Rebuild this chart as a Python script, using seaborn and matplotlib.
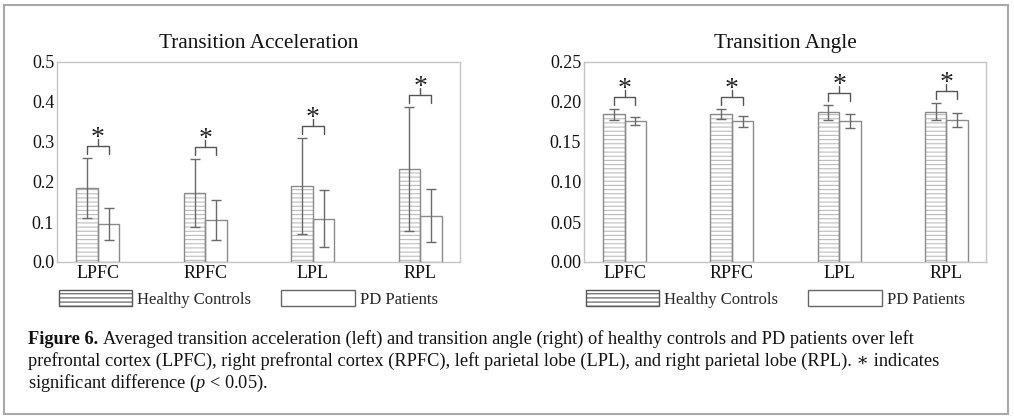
import numpy as np
import pandas as pd
import matplotlib
matplotlib.use("Agg")
import matplotlib.pyplot as plt
import seaborn as sns
from matplotlib.patches import Rectangle

# ---------------- data ----------------
regions = ["LPFC", "RPFC", "LPL", "RPL"]
groups = ["Healthy Controls", "PD Patients"]

acc_hc = [0.185, 0.172, 0.190, 0.232]
acc_hc_err = [0.074, 0.085, 0.120, 0.155]
acc_pd = [0.095, 0.105, 0.108, 0.116]
acc_pd_err = [0.040, 0.049, 0.071, 0.066]

ang_hc = [0.1846, 0.1850, 0.1870, 0.1880]
ang_hc_err = [0.0068, 0.0065, 0.0095, 0.0110]
ang_pd = [0.1760, 0.1760, 0.1762, 0.1775]
ang_pd_err = [0.0053, 0.0070, 0.0090, 0.0082]

acc_ticks = [0.0, 0.1, 0.2, 0.3, 0.4, 0.5]
ang_ticks = [0.00, 0.05, 0.10, 0.15, 0.20, 0.25]

titles = ["Transition Acceleration", "Transition Angle"]

caption_bold = "Figure 6."
caption_1 = ("Averaged transition acceleration (left) and transition angle (right) "
             "of healthy controls and PD patients over left")
caption_2 = ("prefrontal cortex (LPFC), right prefrontal cortex (RPFC), left parietal "
             "lobe (LPL), and right parietal lobe (RPL). \u2217 indicates")
caption_3 = "significant difference ($p$ < 0.05)."

# ---------------- style ----------------
sns.set_style("white")
SERIF = ["Liberation Serif", "DejaVu Serif"]
plt.rcParams["font.family"] = SERIF
plt.rcParams["mathtext.fontset"] = "custom"
plt.rcParams["mathtext.rm"] = "Liberation Serif"
plt.rcParams["mathtext.it"] = "Liberation Serif:italic"
plt.rcParams["hatch.linewidth"] = 0.8

W, H = 1014, 419
fig = plt.figure(figsize=(W / 100, H / 100), dpi=100)
fig.patch.set_facecolor("white")

SPINE = "#c4c4c4"
EDGE = "#8a8a8a"
HATCH = "#bcbcbc"
ERR = "#6a6a6a"
BRK = "#555555"

ax_pos = [(57, 403), (584, 402)]
ax_top, ax_bot = 62, 262


def draw_panel(ax, hc, hce, pdv, pde, ticks, fmt, title):
    df = pd.DataFrame({
        "region": regions * 2,
        "group": [groups[0]] * len(regions) + [groups[1]] * len(regions),
        "value": list(hc) + list(pdv),
    })
    sns.barplot(data=df, x="region", y="value", hue="group", order=regions,
                hue_order=groups, palette=["white", "white"], saturation=1,
                width=0.4, edgecolor=EDGE, linewidth=1.0, errorbar=None,
                legend=False, ax=ax)
    ymax = ticks[-1]
    ax.set_ylim(0, ymax)
    ax.set_xlim(-0.38, 3.37)
    px = ymax / (ax_bot - ax_top)  # data units per pixel

    hc_bars = ax.containers[0]
    pd_bars = ax.containers[1]
    for p in hc_bars:
        p.set_hatch("----")
        p.set_edgecolor(HATCH)
        p.set_linewidth(0.0)
        ax.add_patch(Rectangle((p.get_x(), p.get_y()), p.get_width(), p.get_height(),
                               fill=False, edgecolor=EDGE, linewidth=1.0, zorder=3))

    for bars, vals, errs in ((hc_bars, hc, hce), (pd_bars, pdv, pde)):
        xs = [p.get_x() + p.get_width() / 2 for p in bars]
        ax.errorbar(xs, vals, yerr=errs, fmt="none", ecolor=ERR, elinewidth=1.0,
                    capsize=3.5, capthick=1.0, zorder=4)

    for i in range(len(regions)):
        ph, pp = hc_bars[i], pd_bars[i]
        x1 = ph.get_x() + ph.get_width() / 2
        x2 = pp.get_x() + pp.get_width() / 2
        xm = (x1 + x2) / 2
        top = max(hc[i] + hce[i], pdv[i] + pde[i])
        y0 = top + 4 * px
        yb = y0 + 8 * px
        yt = yb + 7 * px
        ax.plot([x1, x1, x2, x2], [y0, yb, yb, y0], color=BRK, lw=1.0,
                clip_on=False, zorder=5)
        ax.plot([xm, xm], [yb, yt], color=BRK, lw=1.0, clip_on=False, zorder=5)
        ax.text(xm, yt - 6 * px, "*", ha="center", va="baseline", fontsize=20,
                color="#222222", clip_on=False, zorder=6)

    ax.set_yticks(ticks)
    ax.set_yticklabels([fmt.format(t) for t in ticks], fontsize=13)
    ax.set_xticks(range(len(regions)))
    ax.set_xticklabels(regions, fontsize=13)
    ax.tick_params(axis="both", length=0, pad=2, colors="#111111")
    ax.set_xlabel("")
    ax.set_ylabel("")
    for s in ax.spines.values():
        s.set_visible(True)
        s.set_color(SPINE)
        s.set_linewidth(1.0)
    ax.set_title(title, fontsize=15.3, pad=10, color="#111111")


panels = [
    (acc_hc, acc_hc_err, acc_pd, acc_pd_err, acc_ticks, "{:.1f}"),
    (ang_hc, ang_hc_err, ang_pd, ang_pd_err, ang_ticks, "{:.2f}"),
]
for (left, width), data, title in zip(ax_pos, panels, titles):
    ax = fig.add_axes([left / W, 1 - ax_bot / H, width / W, (ax_bot - ax_top) / H])
    draw_panel(ax, *data, title)

    handles = [
        Rectangle((0, 0), 1, 1, facecolor="white", edgecolor="#555555", hatch="----",
                  linewidth=1.0),
        Rectangle((0, 0), 1, 1, facecolor="white", edgecolor="#666666", linewidth=1.0),
    ]
    fig.legend(handles, groups, loc="center left",
               bbox_to_anchor=((left + 2) / W, 1 - 299 / H), ncol=2, frameon=False,
               handlelength=4.4, handleheight=1.1, handletextpad=0.3,
               columnspacing=1.8, borderpad=0, borderaxespad=0,
               prop={"family": SERIF, "size": 12})

# outer frame
fig.add_artist(Rectangle((4 / W, 1 - 414 / H), 1004 / W, 409 / H,
                         transform=fig.transFigure, fill=False,
                         edgecolor="#a8a8a8", linewidth=1.5))

# caption
fig.canvas.draw()
r = fig.canvas.get_renderer()
probe = fig.text(0, 0, caption_2, fontsize=12, family=SERIF)
w = probe.get_window_extent(r).width
probe.remove()
cs = 12 * 909 / w

x0 = 28 / W
b = fig.text(x0, 1 - 344 / H, caption_bold, fontsize=cs, fontweight="bold",
             family=SERIF, va="baseline", color="#111111")
bb = b.get_window_extent(r)
fig.text((bb.x1 + 0.25 * cs * 100 / 72) / W, 1 - 344 / H, caption_1, fontsize=cs,
         family=SERIF, va="baseline", color="#111111")
fig.text(x0, 1 - 366 / H, caption_2, fontsize=cs, family=SERIF, va="baseline",
         color="#111111")
fig.text(x0, 1 - 388 / H, caption_3, fontsize=cs, family=SERIF, va="baseline",
         color="#111111")

fig.savefig("out.png", dpi=100, facecolor="white")
